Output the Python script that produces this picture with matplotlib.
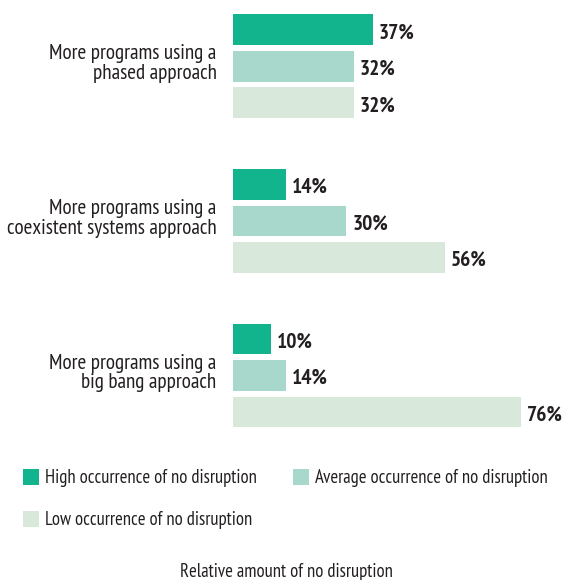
import matplotlib
matplotlib.use("Agg")
import matplotlib.pyplot as plt
from matplotlib.patches import Rectangle
import numpy as np

# ---- data ----
categories = [
    "More programs using a\nphased approach",
    "More programs using a\ncoexistent systems approach",
    "More programs using a\nbig bang approach",
]
series_names = [
    "High occurrence of no disruption",
    "Average occurrence of no disruption",
    "Low occurrence of no disruption",
]
high_vals = [37, 14, 10]
avg_vals = [32, 30, 14]
low_vals = [32, 56, 76]
axis_title = "Relative amount of no disruption"

# ---- style ----
colors = ["#12b48e", "#a8d8cc", "#d8e8db"]
text_color = "#231f20"
plt.rcParams["font.family"] = ["PT Sans Narrow", "Roboto Condensed", "DejaVu Sans"]

W, H = 567, 580
fig = plt.figure(figsize=(W / 100, H / 100), dpi=100)

# axes placement in pixels (from top-left)
x0_px = 232.7          # zero of the value axis
px_per_unit = 3.79     # pixels per percentage point
xmax = 80
group_px = 154.6       # distance between group centres
first_center_px = 66.3
ylim_top, ylim_bot = -0.4, 2.45

ax_left = x0_px / W
ax_width = xmax * px_per_unit / W
top_px = first_center_px + ylim_top * group_px
bot_px = first_center_px + ylim_bot * group_px
ax = fig.add_axes([ax_left, 1 - bot_px / H, ax_width, (bot_px - top_px) / H])

pitch = 36.5 / group_px
bar_h = 30.7 / group_px
y = np.arange(len(categories))

for k, (vals, col) in enumerate(zip([high_vals, avg_vals, low_vals], colors)):
    ypos = y + (k - 1) * pitch
    bars = ax.barh(ypos, vals, height=bar_h, color=col, edgecolor="none")
    for b, v in zip(bars, vals):
        ax.annotate(f"{v}%", xy=(b.get_width(), b.get_y() + b.get_height() / 2),
                    xytext=(6, -8.5), textcoords="offset pixels",
                    ha="left", va="baseline", fontsize=15.4, fontweight="bold",
                    color=text_color)

# category labels, right-aligned just left of the bars
for yi, cat in zip(y, categories):
    ax.annotate(cat, xy=(0, yi), xycoords=("axes fraction", "data"),
                xytext=(-16, 2.5), textcoords="offset pixels",
                ha="right", va="center", multialignment="right",
                fontsize=15.2, linespacing=1.05, color=text_color)

ax.set_xlim(0, xmax)
ax.set_ylim(ylim_bot, ylim_top)
ax.set_xticks([])
ax.set_yticks([])
for s in ax.spines.values():
    s.set_visible(False)
ax.patch.set_visible(False)

# ---- legend ----
def fx(px):
    return px / W

def fy(py):
    return 1 - py / H

legend_items = [
    (23, 469, colors[0], series_names[0]),
    (293.3, 469, colors[1], series_names[1]),
    (23, 511, colors[2], series_names[2]),
]
for lx, ly, col, name in legend_items:
    fig.add_artist(Rectangle((fx(lx), fy(ly + 15.5)), 15.5 / W, 15.5 / H,
                             transform=fig.transFigure, facecolor=col,
                             edgecolor="none"))
    fig.text(fx(lx + 22), fy(ly + 14.3), name, ha="left", va="baseline",
             fontsize=13.4, color=text_color)

fig.text(fx(286.5), fy(577), axis_title, ha="center", va="baseline",
         fontsize=13.4, color=text_color)

fig.savefig("out.png", dpi=100, facecolor="white")
